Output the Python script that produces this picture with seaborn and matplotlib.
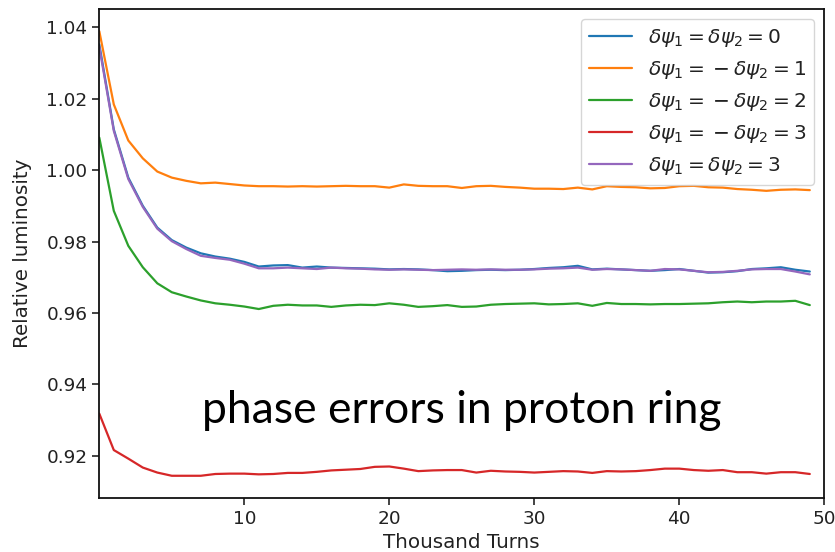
import numpy as np
import pandas as pd
import matplotlib
matplotlib.use("Agg")
import matplotlib.pyplot as plt
import seaborn as sns

# ---- data ----
turns = list(range(50))

lumi_00 = [1.0352, 1.0114, 0.9979, 0.9900, 0.9839, 0.9804, 0.9783, 0.9767, 0.9758, 0.9752,
           0.9743, 0.9730, 0.9733, 0.9734, 0.9727, 0.9730, 0.9727, 0.9726, 0.9725, 0.9724,
           0.9722, 0.9723, 0.9722, 0.9720, 0.9717, 0.9718, 0.9720, 0.9721, 0.9720, 0.9721,
           0.9723, 0.9726, 0.9728, 0.9732, 0.9722, 0.9724, 0.9722, 0.9720, 0.9718, 0.9720,
           0.9723, 0.9718, 0.9713, 0.9714, 0.9717, 0.9723, 0.9725, 0.9728, 0.9721, 0.9716]

lumi_m1 = [1.0389, 1.0184, 1.0083, 1.0033, 0.9996, 0.9979, 0.9970, 0.9963, 0.9965, 0.9961,
           0.9957, 0.9955, 0.9955, 0.9954, 0.9955, 0.9954, 0.9955, 0.9956, 0.9955, 0.9955,
           0.9951, 0.9960, 0.9956, 0.9955, 0.9955, 0.9950, 0.9955, 0.9956, 0.9953, 0.9951,
           0.9948, 0.9948, 0.9947, 0.9951, 0.9946, 0.9955, 0.9953, 0.9952, 0.9949, 0.9950,
           0.9955, 0.9956, 0.9952, 0.9951, 0.9947, 0.9945, 0.9942, 0.9945, 0.9946, 0.9944]

lumi_m2 = [1.0091, 0.9886, 0.9788, 0.9728, 0.9683, 0.9658, 0.9646, 0.9635, 0.9627, 0.9623,
           0.9618, 0.9611, 0.9620, 0.9623, 0.9621, 0.9621, 0.9617, 0.9621, 0.9623, 0.9622,
           0.9627, 0.9623, 0.9617, 0.9619, 0.9622, 0.9617, 0.9618, 0.9623, 0.9625, 0.9626,
           0.9627, 0.9624, 0.9625, 0.9627, 0.9620, 0.9628, 0.9625, 0.9625, 0.9624, 0.9625,
           0.9625, 0.9626, 0.9627, 0.9630, 0.9632, 0.9630, 0.9632, 0.9632, 0.9634, 0.9622]

lumi_m3 = [0.9318, 0.9216, 0.9192, 0.9167, 0.9153, 0.9144, 0.9144, 0.9144, 0.9149, 0.9150,
           0.9150, 0.9148, 0.9149, 0.9152, 0.9152, 0.9155, 0.9159, 0.9161, 0.9163, 0.9169,
           0.9170, 0.9164, 0.9157, 0.9159, 0.9160, 0.9160, 0.9153, 0.9158, 0.9156, 0.9155,
           0.9153, 0.9155, 0.9157, 0.9156, 0.9152, 0.9157, 0.9156, 0.9157, 0.9160, 0.9164,
           0.9164, 0.9160, 0.9158, 0.9160, 0.9154, 0.9154, 0.9150, 0.9154, 0.9154, 0.9149]

lumi_p3 = [1.0345, 1.0110, 0.9975, 0.9897, 0.9836, 0.9801, 0.9779, 0.9760, 0.9754, 0.9749,
           0.9738, 0.9725, 0.9725, 0.9727, 0.9725, 0.9723, 0.9727, 0.9725, 0.9724, 0.9722,
           0.9721, 0.9722, 0.9721, 0.9720, 0.9721, 0.9722, 0.9721, 0.9722, 0.9721, 0.9721,
           0.9722, 0.9724, 0.9725, 0.9727, 0.9721, 0.9723, 0.9722, 0.9720, 0.9718, 0.9723,
           0.9722, 0.9718, 0.9714, 0.9715, 0.9718, 0.9722, 0.9723, 0.9723, 0.9716, 0.9708]

series_labels = [r"$\delta\psi_1 = \delta\psi_2 = 0$",
                 r"$\delta\psi_1 =\:-\:\delta\psi_2 = 1$",
                 r"$\delta\psi_1 =\:-\:\delta\psi_2 = 2$",
                 r"$\delta\psi_1 =\:-\:\delta\psi_2 = 3$",
                 r"$\delta\psi_1 = \delta\psi_2 = 3$"]
series_values = [lumi_00, lumi_m1, lumi_m2, lumi_m3, lumi_p3]
x_ticks = [10, 20, 30, 40, 50]

# ---- long-form table ----
df = pd.concat([pd.DataFrame({"turns": turns, "lumi": v, "case": lab})
                for lab, v in zip(series_labels, series_values)], ignore_index=True)

sns.set_style("ticks")
plt.rcParams["font.family"] = ["DejaVu Sans"]

fig = plt.figure(figsize=(8.35, 5.52), dpi=100)
ax = fig.add_axes([99.3 / 835, 1 - 498 / 552, 725 / 835, 489 / 552])

palette = ["#1f77b4", "#ff7f0e", "#2ca02c", "#d62728", "#9467bd"]
sns.lineplot(data=df, x="turns", y="lumi", hue="case", hue_order=series_labels,
             palette=palette, linewidth=1.6, ax=ax, legend=True)

ax.set_xlim(0, 50)
ax.set_xticks(x_ticks)
ax.set_xlabel("Thousand Turns", fontsize=14.3, color="#222222", labelpad=3.5)
ax.set_ylabel("Relative luminosity", fontsize=14.3, color="#222222", labelpad=10)
ax.tick_params(axis="both", labelsize=13.3, colors="#222222", length=5, width=1.2)
for s in ax.spines.values():
    s.set_color("#111111")
    s.set_linewidth(1.3)

handles, labels = ax.get_legend_handles_labels()
leg = ax.legend(handles, labels, loc="upper right", fontsize=14.5, frameon=True,
                framealpha=0.8, edgecolor="0.8", fancybox=True, handlelength=2.1,
                borderaxespad=0.5)
for t in leg.get_texts():
    t.set_color("#222222")

ax.text(0.4996, 0.1534, "phase errors in proton ring", transform=ax.transAxes,
        ha="center", va="baseline", fontsize=32, family=["Lato", "DejaVu Sans"],
        color="black")

fig.savefig("out.png", dpi=100)
